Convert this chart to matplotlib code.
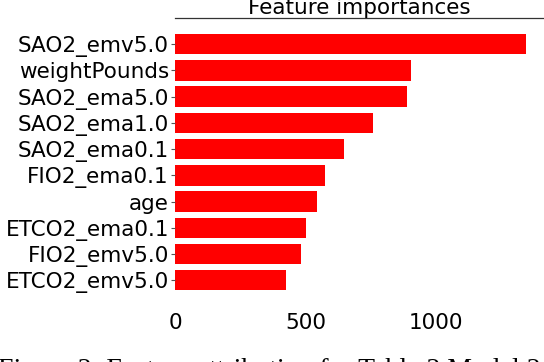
import matplotlib
matplotlib.use("Agg")
import matplotlib.pyplot as plt
import numpy as np

features = ["SAO2_emv5.0", "weightPounds", "SAO2_ema5.0", "SAO2_ema1.0",
            "SAO2_ema0.1", "FIO2_ema0.1", "age", "ETCO2_ema0.1",
            "FIO2_emv5.0", "ETCO2_emv5.0"]
importances = [1346, 905, 889, 757, 648, 574, 543, 501, 481, 424]
xticks = [0, 500, 1000]
title = "Feature importances"
caption = "Figure 2: Feature attribution for Table 2 Model 2"

W, H = 544, 362
fig = plt.figure(figsize=(W / 100, H / 100), dpi=100)
left, right = 175 / W, 1.0
top, bottom = 1 - 17.7 / H, 1 - 306.5 / H
ax = fig.add_axes([left, bottom, right - left, top - bottom])

n = len(features)
pos = np.arange(n)[::-1]
ax.barh(pos, importances, height=0.78, color="#ff0000")
ax.set_yticks(pos)
ax.set_yticklabels(features, fontsize=15.5)
ax.set_xticks(xticks)
ax.set_xticklabels([str(v) for v in xticks], fontsize=15.5)
ax.set_xlim(0, 1414)
ax.set_ylim(-1.0, n - 1 + 1.01)

for s in ["left", "right", "bottom"]:
    ax.spines[s].set_visible(False)
ax.spines["top"].set_color("#333333")
ax.spines["top"].set_linewidth(0.9)

ax.tick_params(axis="y", length=2.9, width=0.8, color="#555555", pad=1.5)
ax.tick_params(axis="x", length=0, pad=4.7)

ax.set_title(title, fontsize=15.5, pad=2.0)

fig.text(0.0 - 2 / W, 1 - 377 / H, caption, fontsize=20, family="Liberation Serif",
         ha="left", va="baseline")

fig.savefig("out.png", dpi=100)
